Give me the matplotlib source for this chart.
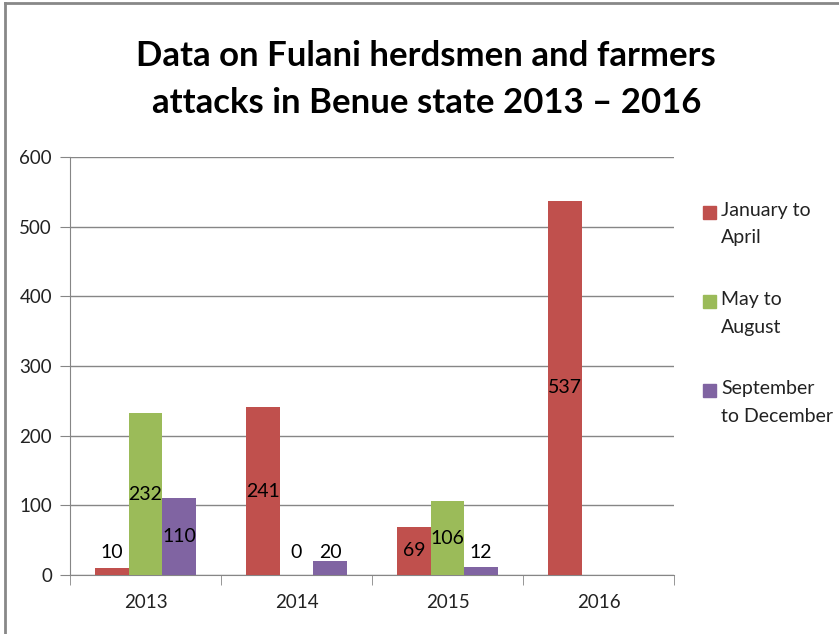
import matplotlib
matplotlib.use("Agg")
import matplotlib.pyplot as plt
import numpy as np
from matplotlib.lines import Line2D
from matplotlib.patches import Rectangle

years = ["2013", "2014", "2015", "2016"]
series_names = ["January to\nApril", "May to\nAugust", "September\nto December"]
jan_apr = [10, 241, 69, 537]
may_aug = [232, 0, 106, np.nan]
sep_dec = [110, 20, 12, np.nan]
colors = ["#C0504D", "#9BBB59", "#8064A2"]

plt.rcParams["font.family"] = ["Lato", "DejaVu Sans"]

fig = plt.figure(figsize=(8.39, 6.34), dpi=100)
ax = fig.add_axes([70 / 839, 1 - 575 / 634, 604 / 839, 418 / 634])

x = np.arange(len(years))
w = 1 / 4.5
all_series = [jan_apr, may_aug, sep_dec]
for i, (vals, c) in enumerate(zip(all_series, colors)):
    pos = x + (i - 1) * w
    ax.bar(pos, vals, width=w, color=c, edgecolor="none", zorder=3)
    for px, v in zip(pos, vals):
        if np.isnan(v):
            continue
        # small bars get the label lifted above the bar
        ax.text(px, max(v / 2, 33), str(int(v)), ha="center", va="center",
                fontsize=14, color="black", zorder=4)

ax.set_xlim(-0.5, 3.5)
ax.set_ylim(0, 600)
ax.set_yticks(range(0, 601, 100))
ax.set_xticks(x)
ax.set_xticklabels(years)
ax.set_xticks(np.arange(-0.5, 4, 1), minor=True)
ax.tick_params(axis="x", which="major", length=0, pad=14, labelsize=13.5, labelcolor="#222222")
ax.tick_params(axis="x", which="minor", length=7, color="#868686", direction="out")
ax.tick_params(axis="y", length=7, color="#868686", direction="out", pad=6,
               labelsize=13.5, labelcolor="#222222")
ax.grid(axis="y", color="#868686", linewidth=1, zorder=0)
for s in ["top", "right"]:
    ax.spines[s].set_visible(False)
for s in ["left", "bottom"]:
    ax.spines[s].set_color("#868686")

fig.text(0.508, 1 - 56 / 634, "Data on Fulani herdsmen and farmers", ha="center", va="center",
         fontsize=25, fontweight="bold")
fig.text(0.508, 1 - 103 / 634, "attacks in Benue state 2013 \u2013 2016", ha="center", va="center",
         fontsize=25, fontweight="bold")

# legend
for k, (name, c) in enumerate(zip(series_names, colors)):
    ytop = 205 + k * 89
    fig.add_artist(Rectangle((703 / 839, 1 - (ytop + 14) / 634), 13 / 839, 13 / 634,
                             transform=fig.transFigure, color=c))
    fig.text(721 / 839, 1 - (ytop - 3) / 634, name, ha="left", va="top",
             fontsize=14, color="#222222", linespacing=1.75)

# chart border (left and top visible)
fig.add_artist(Line2D([5 / 839, 5 / 839], [0, 1 - 3 / 634], transform=fig.transFigure,
                      color="#888888", linewidth=2))
fig.add_artist(Line2D([5 / 839, 1], [1 - 3 / 634, 1 - 3 / 634], transform=fig.transFigure,
                      color="#888888", linewidth=2))

fig.savefig("out.png", dpi=100)
